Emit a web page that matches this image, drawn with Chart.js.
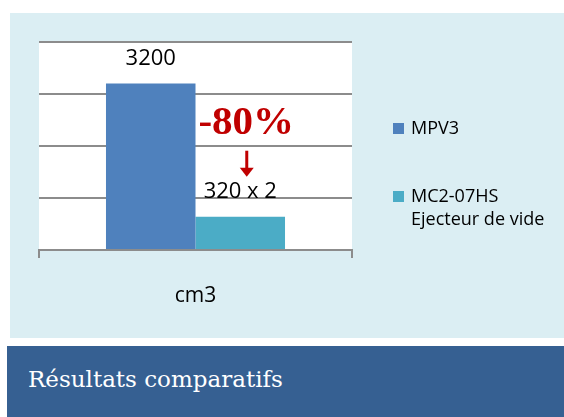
<!DOCTYPE html>
<html><head><meta charset="utf-8">
<script src="https://cdn.jsdelivr.net/npm/chart.js@4.4.1/dist/chart.umd.min.js"></script>
<style>
html,body{margin:0;padding:0;background:#fff;width:564px;height:417px;overflow:hidden;}
#panel{position:absolute;left:10px;top:13px;width:554px;height:325px;background:#DBEEF3;}
#band{position:absolute;left:7px;top:346px;width:557px;height:71px;background:#366092;}
#title{position:absolute;left:28px;top:363px;color:#fff;font-family:"DejaVu Serif";font-size:23px;line-height:32px;white-space:nowrap;}
#c{position:absolute;left:0;top:0;}
</style></head><body>
<div id="panel"></div>
<div id="band"></div>
<div id="title">Résultats comparatifs</div>
<canvas id="c" width="564" height="417"></canvas>
<script>
const categories = ["cm3"];
const seriesNames = [["MPV3"], ["MC2-07HS", "Ejecteur de vide"]];
const mpv3Values = [3200];
const mc2Values = [640];
const valueLabels = ["3200", "320 x 2"];
const reductionLabel = "-80%";
const yTicks = [0, 1000, 2000, 3000, 4000];
const seriesColors = ["#4F81BD", "#4BACC6"];

const GRID = "#8C8C8C";
const SANS = "'Open Sans', sans-serif";

const plotBg = {
  id: "plotBg",
  beforeDraw(chart) {
    const a = chart.chartArea, ctx = chart.ctx;
    ctx.save();
    ctx.fillStyle = "#FFFFFF";
    ctx.fillRect(a.left, a.top, a.right - a.left, a.bottom - a.top);
    ctx.restore();
  }
};

const labelsAndNotes = {
  id: "labelsAndNotes",
  afterDatasetsDraw(chart) {
    const ctx = chart.ctx;
    ctx.save();
    ctx.fillStyle = "#000";
    ctx.font = "22px " + SANS;
    ctx.textAlign = "center";
    ctx.textBaseline = "alphabetic";
    chart.data.datasets.forEach((ds, i) => {
      const bar = chart.getDatasetMeta(i).data[0];
      ctx.fillText(valueLabels[i], bar.x, bar.y - 19);
    });
    const small = chart.getDatasetMeta(1).data[0];
    ctx.fillStyle = "#C00000";
    ctx.font = "bold 41px 'Liberation Serif', serif";
    ctx.fillText(reductionLabel, small.x + 6, small.y - 83);
    const ax = small.x + 6.5, y1 = small.y - 66, y2 = small.y - 40;
    ctx.strokeStyle = "#C00000";
    ctx.lineWidth = 3;
    ctx.beginPath();
    ctx.moveTo(ax, y1);
    ctx.lineTo(ax, y2 - 8);
    ctx.stroke();
    ctx.beginPath();
    ctx.moveTo(ax - 7, y2 - 9);
    ctx.lineTo(ax + 7, y2 - 9);
    ctx.lineTo(ax, y2);
    ctx.closePath();
    ctx.fill();
    ctx.restore();
  },
  afterDraw(chart) {
    const ctx = chart.ctx, a = chart.chartArea;
    ctx.save();
    const lx = a.right + 41;
    const tops = [123, 191];
    ctx.font = "18px " + SANS;
    ctx.textAlign = "left";
    ctx.textBaseline = "middle";
    chart.data.datasets.forEach((ds, i) => {
      const y = tops[i];
      ctx.fillStyle = ds.backgroundColor;
      ctx.fillRect(lx, y, 11, 11);
      ctx.fillStyle = "#000";
      seriesNames[i].forEach((line, k) => {
        ctx.fillText(line, lx + 18, y + 6 + k * 23);
      });
    });
    ctx.restore();
  }
};

new Chart(document.getElementById("c"), {
  type: "bar",
  data: {
    labels: categories,
    datasets: [
      { label: seriesNames[0].join(" "), data: mpv3Values, backgroundColor: seriesColors[0] },
      { label: seriesNames[1].join(" "), data: mc2Values, backgroundColor: seriesColors[1] }
    ]
  },
  options: {
    responsive: false,
    animation: false,
    devicePixelRatio: 1,
    layout: { padding: { left: 39, top: 42, right: 212, bottom: 0 } },
    datasets: { bar: { categoryPercentage: 0.572, barPercentage: 1.0, borderWidth: 0 } },
    plugins: { legend: { display: false }, tooltip: { enabled: false } },
    scales: {
      x: {
        afterFit: s => { s.height = 167; },
        grid: { drawOnChartArea: false, color: GRID, lineWidth: 2, tickLength: 8 },
        border: { color: GRID, width: 2 },
        ticks: { color: "#000", font: { family: "'Open Sans'", size: 21 }, padding: 25 }
      },
      y: {
        min: yTicks[0],
        max: yTicks[yTicks.length - 1],
        afterFit: s => { s.width = 0; },
        ticks: { display: false, stepSize: yTicks[1] - yTicks[0] },
        grid: { color: GRID, lineWidth: 2, drawTicks: false },
        border: { display: false }
      }
    }
  },
  plugins: [plotBg, labelsAndNotes]
});
</script>
</body></html>
